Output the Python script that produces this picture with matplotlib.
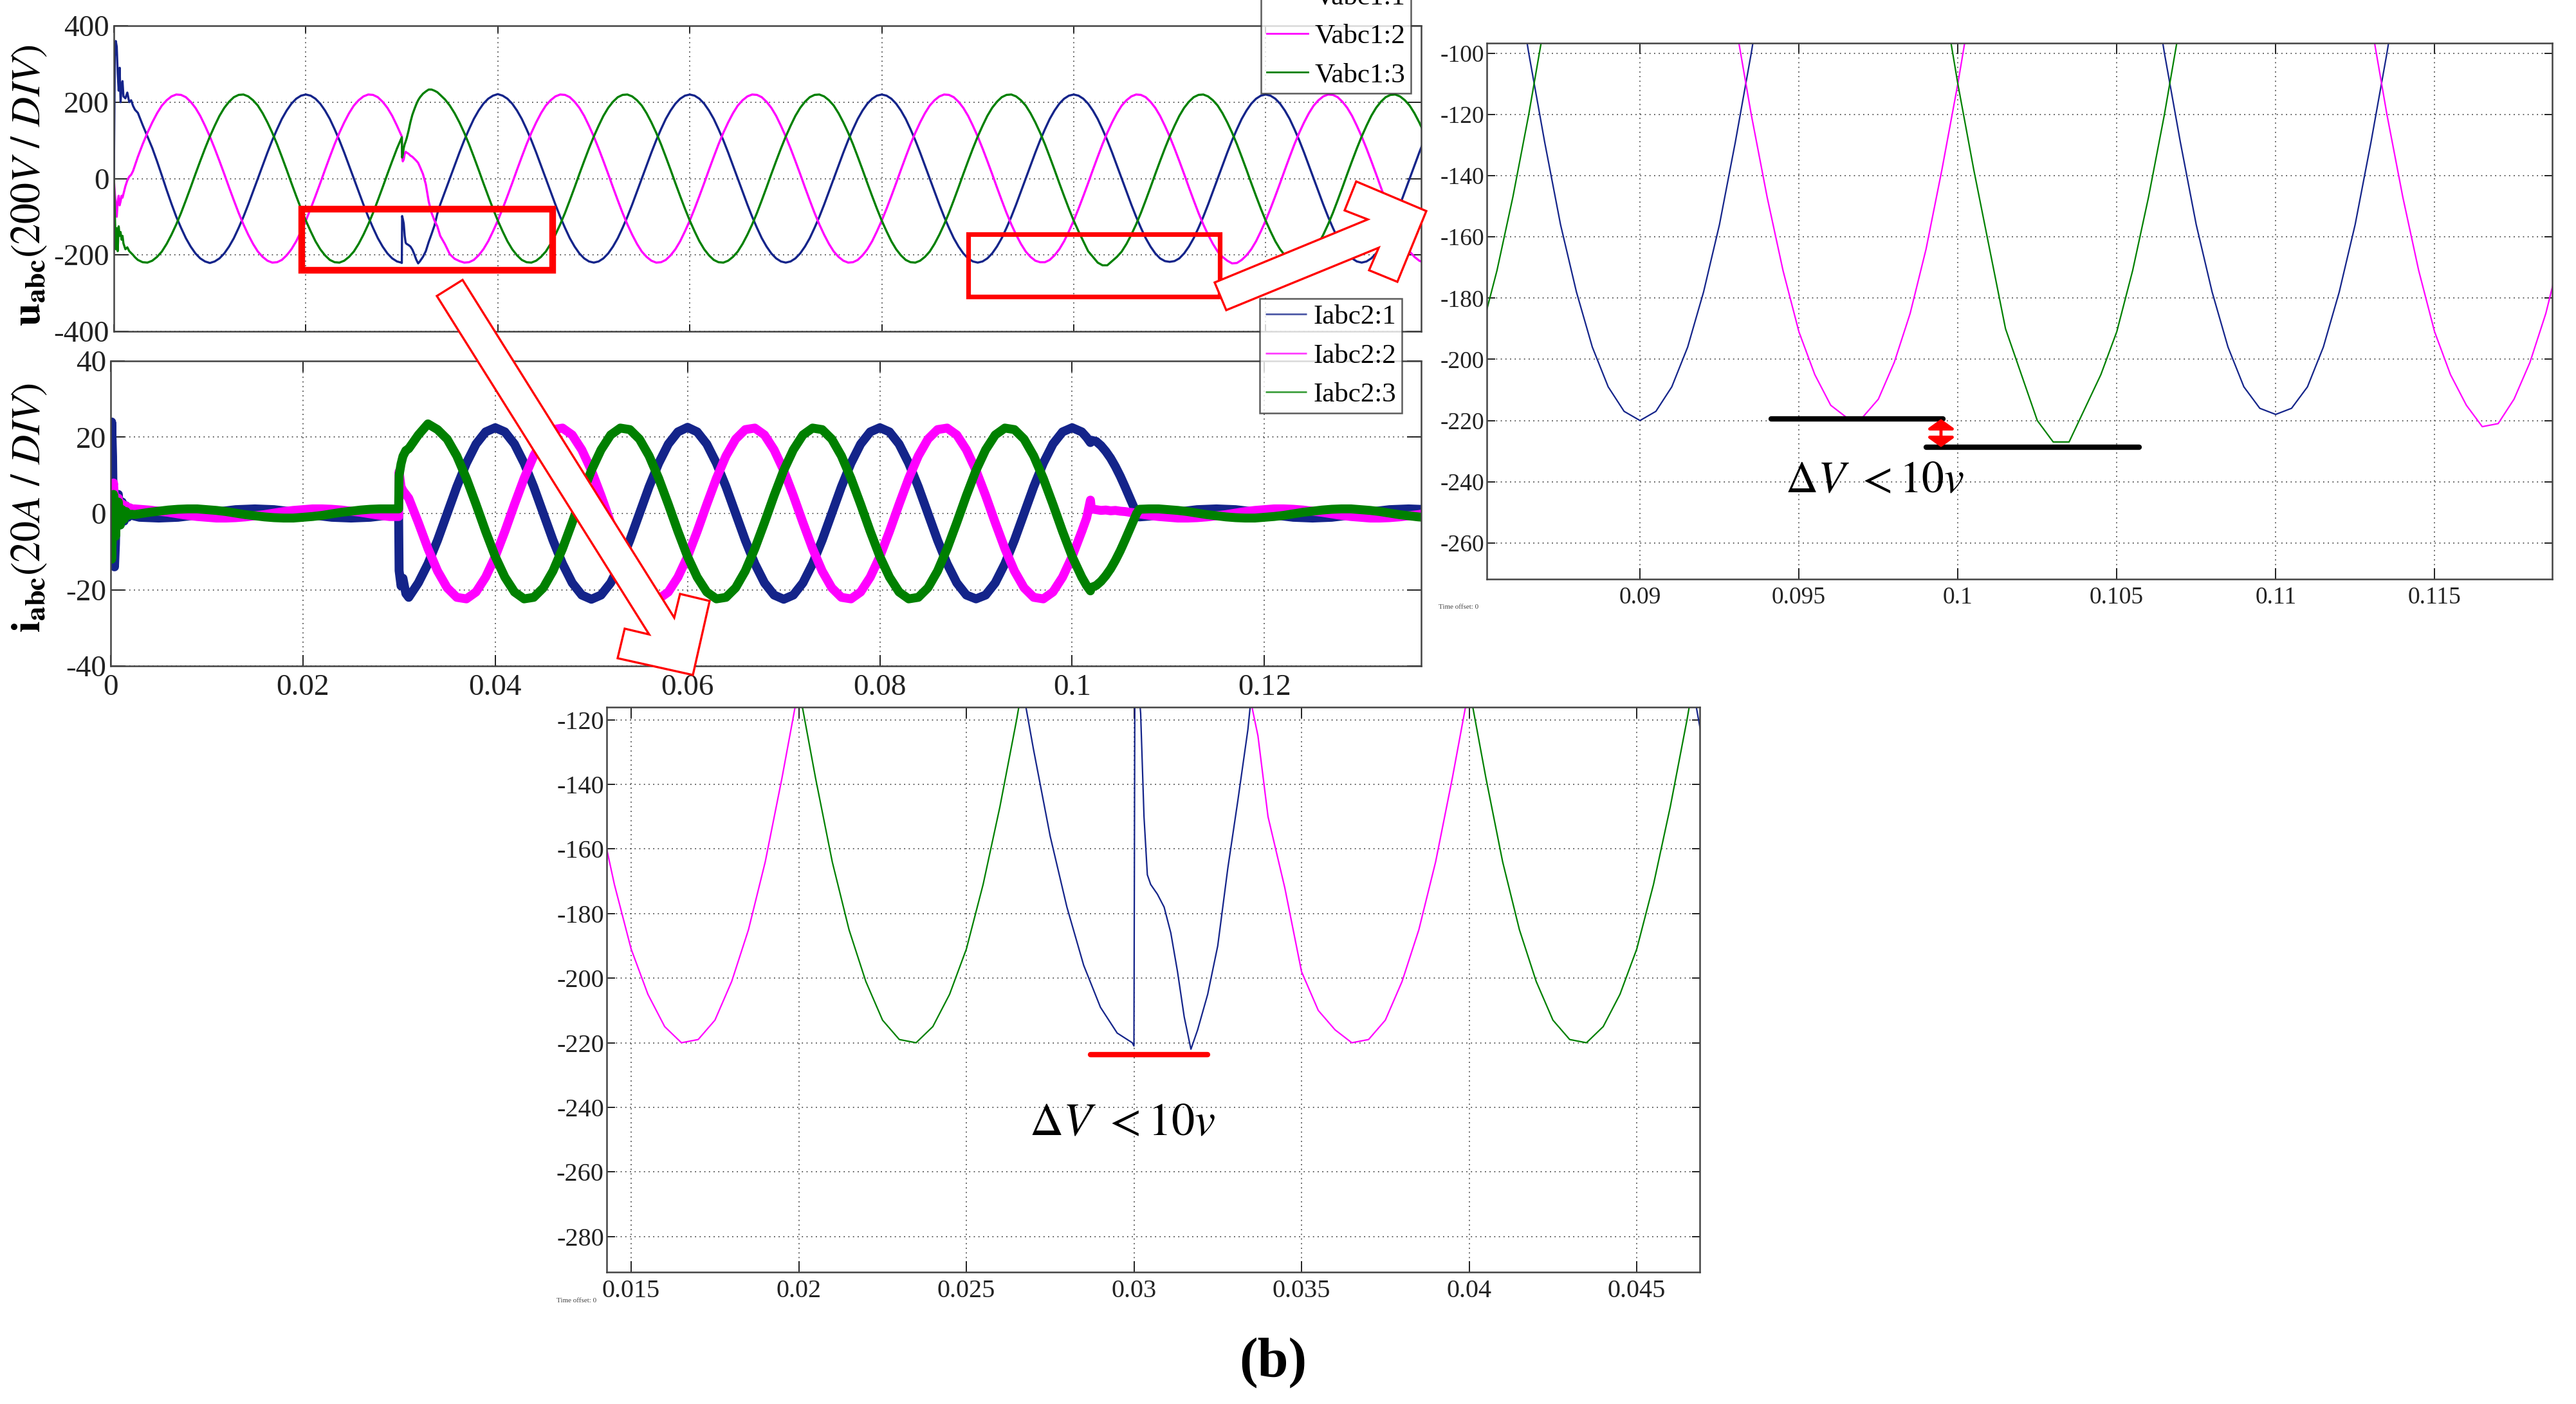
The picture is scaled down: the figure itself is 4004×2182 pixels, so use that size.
import numpy as np
import matplotlib
matplotlib.use('Agg')
import matplotlib.pyplot as plt
from matplotlib.patches import Polygon, Rectangle
from matplotlib.ticker import FuncFormatter

plt.rcParams['font.family'] = 'serif'
plt.rcParams['font.serif'] = ['Liberation Serif', 'DejaVu Serif']
plt.rcParams['mathtext.fontset'] = 'stix'

# ======================= DATA =======================
# Voltages (V), base samples every 0.5 ms, one row per 20 ms cycle
VSTEP_MS = 0.5
va_rows = [
    [0, 320, 360, 300, 240, 172, 140, 110, 80, 45, 8, -30, -66, -100, -129, -156, -178, -196, -209, -217,
     -221, -217, -209, -196, -178, -156, -129, -100, -68, -34, 0, 34, 68, 100, 129, 156, 178, 196, 209, 217],
    [220, 217, 209, 196, 178, 156, 129, 100, 68, 34, 0, -34, -68, -100, -129, -156, -178, -196, -209, -217,
     -221, -171, -174, -186, -212, -216, -190, -161, -68, -34, 0, 34, 68, 100, 129, 156, 178, 196, 209, 217],
    [221, 217, 209, 196, 178, 156, 129, 100, 68, 34, 0, -34, -68, -100, -129, -156, -178, -196, -209, -217,
     -220, -217, -209, -196, -178, -156, -129, -100, -68, -34, 0, 34, 68, 100, 129, 156, 178, 196, 209, 217],
    [220, 217, 209, 196, 178, 156, 129, 100, 68, 34, 0, -34, -68, -100, -129, -156, -178, -196, -209, -217,
     -220, -217, -209, -196, -178, -156, -129, -100, -68, -34, 0, 34, 68, 100, 129, 156, 178, 196, 209, 217],
    [220, 217, 209, 196, 178, 156, 129, 100, 68, 34, 0, -34, -68, -100, -129, -156, -178, -196, -209, -217,
     -220, -217, -209, -196, -178, -156, -129, -100, -68, -34, 0, 34, 68, 100, 129, 156, 178, 196, 209, 217],
    [220, 217, 209, 196, 178, 156, 129, 100, 68, 34, 0, -34, -68, -100, -129, -156, -178, -196, -209, -216,
     -218, -216, -209, -196, -178, -156, -129, -100, -68, -34, 0, 34, 68, 100, 129, 156, 178, 196, 209, 217],
    [220, 217, 209, 196, 178, 156, 129, 100, 68, 34, 0, -34, -68, -100, -129, -156, -178, -196, -209, -217,
     -220, -217, -209, -196, -178, -156, -129, -100, -68, -34, 0, 34, 68, 100, 129],
]
vb_rows = [
    [-110, -79, -46, -12, 23, 57, 90, 120, 147, 171, 191, 205, 215, 220, 219, 213, 201, 185, 164, 138,
     110, 79, 46, 12, -23, -57, -90, -120, -147, -171, -191, -205, -215, -220, -219, -213, -201, -185, -164, -138],
    [-110, -79, -46, -12, 23, 57, 90, 120, 147, 171, 191, 205, 215, 220, 219, 213, 201, 185, 164, 138,
     110, 79, 46, 12, -23, -57, -90, -120, -150, -172, -198, -210, -216, -220, -219, -213, -201, -185, -164, -138],
    [-110, -79, -46, -12, 23, 57, 90, 120, 147, 171, 191, 205, 215, 220, 219, 213, 201, 185, 164, 138,
     110, 79, 46, 12, -23, -57, -90, -120, -147, -171, -191, -205, -215, -220, -219, -213, -201, -185, -164, -138],
    [-110, -79, -46, -12, 23, 57, 90, 120, 147, 171, 191, 205, 215, 220, 219, 213, 201, 185, 164, 138,
     110, 79, 46, 12, -23, -57, -90, -120, -147, -171, -191, -205, -215, -220, -219, -213, -201, -185, -164, -138],
    [-110, -79, -46, -12, 23, 57, 90, 120, 147, 171, 191, 205, 215, 220, 219, 213, 201, 185, 164, 138,
     110, 79, 46, 12, -23, -57, -90, -120, -147, -171, -191, -205, -215, -219, -219, -213, -201, -185, -164, -138],
    [-110, -79, -46, -12, 23, 57, 90, 120, 147, 171, 191, 205, 215, 220, 219, 213, 201, 185, 164, 138,
     110, 79, 46, 12, -23, -57, -90, -120, -147, -171, -191, -205, -215, -222, -221, -213, -201, -185, -164, -138],
    [-110, -79, -46, -12, 23, 57, 90, 120, 147, 171, 191, 205, 215, 220, 219, 213, 201, 185, 164, 138,
     110, 79, 46, 12, -23, -57, -90, -120, -147, -171, -191, -205, -215, -220, -219],
]
vc_rows = [
    [-110, -138, -164, -185, -201, -213, -219, -220, -215, -205, -191, -171, -147, -120, -90, -57, -23, 12, 46, 79,
     110, 138, 164, 185, 201, 213, 219, 220, 215, 205, 191, 171, 147, 120, 90, 57, 23, -12, -46, -79],
    [-110, -138, -164, -185, -201, -213, -219, -220, -215, -205, -191, -171, -147, -120, -90, -57, -23, 12, 46, 79,
     110, 138, 164, 185, 201, 213, 219, 220, 219, 207, 191, 171, 147, 120, 90, 57, 23, -12, -46, -79],
    [-110, -138, -164, -185, -201, -213, -219, -220, -215, -205, -191, -171, -147, -120, -90, -57, -23, 12, 46, 79,
     110, 138, 164, 185, 201, 213, 219, 220, 215, 205, 191, 171, 147, 120, 90, 57, 23, -12, -46, -79],
    [-110, -138, -164, -185, -201, -213, -219, -220, -215, -205, -191, -171, -147, -120, -90, -57, -23, 12, 46, 79,
     110, 138, 164, 185, 201, 213, 219, 220, 215, 205, 191, 171, 147, 120, 90, 57, 23, -12, -46, -79],
    [-110, -138, -164, -185, -201, -213, -219, -220, -215, -205, -191, -171, -147, -120, -90, -57, -23, 12, 46, 79,
     110, 138, 164, 185, 201, 213, 219, 220, 215, 205, 191, 171, 147, 120, 90, 57, 23, -12, -46, -79],
    [-110, -138, -164, -190, -205, -220, -227, -227, -216, -205, -191, -171, -147, -120, -90, -57, -23, 12, 46, 79,
     110, 138, 164, 185, 201, 213, 219, 220, 215, 205, 191, 171, 147, 120, 90, 57, 23, -12, -46, -79],
    [-110, -138, -164, -185, -201, -213, -219, -220, -215, -205, -191, -171, -147, -120, -90, -57, -23, 12, 46, 79,
     110, 138, 164, 185, 201, 213, 219, 220, 215, 205, 191, 171, 147, 120, 90],
]
# start-up transient of the voltages (ms, V)
t_v_start = [0, 0.1, 0.2, 0.3, 0.4, 0.5, 0.6, 0.7, 0.8, 0.9, 1.0, 1.2, 1.4, 1.6, 1.8, 2.0, 2.2]
va_start = [0, 320, 360, 345, 275, 230, 290, 200, 240, 255, 215, 210, 225, 200, 205, 190, 180]
vb_start = [0, -40, -70, -100, -60, -45, -70, -60, -45, -50, -40, -20, -5, 5, 10, 20, 35]
vc_start = [0, -90, -185, -130, -190, -125, -150, -140, -160, -150, -170, -185, -180, -190, -195, -200, -206]
# load switching disturbance at 30 ms (ms, V)
t_v_dist = [29.95, 30.0, 30.03, 30.1, 30.2, 30.3, 30.4, 30.5, 30.7, 30.9, 31.1, 31.3, 31.5, 31.7, 31.9,
            32.2, 32.5, 32.8, 33.1, 33.4, 33.7]
va_dist = [-220, -221, -98, -105, -118, -150, -168, -171, -174, -178, -186, -198, -212, -222, -216,
           -205, -190, -166, -145, -123, -92]
vb_dist = [113, 110, 60, 45, 50, 65, 70, 68, 65, 60, 57, 52, 47, 41, 30, 12, -15, -60, -90, -110, -125]
vc_dist = [105, 108, 55, 62, 80, 90, 97, 105, 125, 148, 167, 181, 194, 205, 213, 222, 228, 233, 233, 230, 226]

# Currents (A), base samples every 1 ms, one row per 20 ms cycle
ISTEP_MS = 1.0
ia_rows = [
    [0, -0.4, -0.7, -1.0, -1.1, -1.2, -1.1, -1.0, -0.7, -0.4, 0, 0.4, 0.7, 1.0, 1.1, 1.2, 1.1, 1.0, 0.7, 0.4],
    [0, -0.4, -0.7, -1.0, -1.1, -1.2, -1.1, -1.0, -0.7, -0.4, -22.5, -21.4, -18.2, -13.2, -7.0, 0, 7.0, 13.2, 18.2, 21.4],
    [22.5, 21.4, 18.2, 13.2, 7.0, 0, -7.0, -13.2, -18.2, -21.4, -22.5, -21.4, -18.2, -13.2, -7.0, 0, 7.0, 13.2, 18.2, 21.4],
    [22.6, 21.4, 18.2, 13.2, 7.0, 0, -7.0, -13.2, -18.2, -21.4, -22.5, -21.4, -18.2, -13.2, -7.0, 0, 7.0, 13.2, 18.2, 21.4],
    [22.5, 21.4, 18.2, 13.2, 7.0, 0, -7.0, -13.2, -18.2, -21.4, -22.4, -21.4, -18.2, -13.2, -7.0, 0, 7.0, 13.2, 18.2, 21.4],
    [22.5, 21.4, 19.4, 17.8, 14.5, 9.8, 4.1, -1.0, -0.7, -0.4, 0, 0.4, 0.7, 1.0, 1.1, 1.2, 1.1, 1.0, 0.7, 0.4],
    [0, -0.4, -0.7, -1.0, -1.1, -1.2, -1.1, -1.0, -0.7, -0.4, 0, 0.4, 0.7, 1.0, 1.1, 1.2, 1.1, 1.0],
]
ib_rows = [
    [1.0, 1.2, 1.2, 1.1, 0.9, 0.6, 0.3, -0.1, -0.5, -0.8, -1.0, -1.2, -1.2, -1.1, -0.9, -0.6, -0.3, 0.1, 0.5, 0.8],
    [1.0, 1.2, 1.2, 1.1, 0.9, 0.6, 0.3, -0.1, -0.5, -0.8, 11.3, 4.7, -2.4, -9.2, -15.1, -19.5, -22.0, -22.4, -20.6, -16.7],
    [-11.3, -4.7, 2.4, 9.2, 15.1, 19.5, 22.0, 22.4, 20.6, 16.7, 11.3, 4.7, -2.4, -9.2, -15.1, -19.5, -22.0, -22.4, -20.6, -16.7],
    [-11.3, -4.7, 2.4, 9.2, 15.1, 19.5, 22.0, 22.4, 20.6, 16.7, 11.3, 4.7, -2.4, -9.2, -15.1, -19.5, -22.0, -22.4, -20.6, -16.7],
    [-11.3, -4.7, 2.4, 9.2, 15.1, 19.5, 22.0, 22.4, 20.6, 16.7, 11.3, 4.7, -2.4, -9.2, -15.1, -19.5, -22.0, -22.4, -20.6, -16.7],
    [-11.3, -4.7, 1.0, 0.8, 0.7, 0.6, 0.3, -0.1, -0.5, -0.8, -1.0, -1.2, -1.2, -1.1, -0.9, -0.6, -0.3, 0.1, 0.5, 0.8],
    [1.0, 1.2, 1.2, 1.1, 0.9, 0.6, 0.3, -0.1, -0.5, -0.8, -1.0, -1.2, -1.2, -1.1, -0.9, -0.6, -0.3, 0.1],
]
ic_rows = [
    [-1.0, -0.8, -0.5, -0.1, 0.3, 0.6, 0.9, 1.1, 1.2, 1.2, 1.0, 0.8, 0.5, 0.1, -0.3, -0.6, -0.9, -1.1, -1.2, -1.2],
    [-1.0, -0.8, -0.5, -0.1, 0.3, 0.6, 0.9, 1.1, 1.2, 1.2, 11.3, 16.7, 20.6, 23.5, 22.0, 19.5, 15.1, 9.2, 2.4, -4.7],
    [-11.3, -16.7, -20.6, -22.4, -22.0, -19.5, -15.1, -9.2, -2.4, 4.7, 11.3, 16.7, 20.6, 22.4, 22.0, 19.5, 15.1, 9.2, 2.4, -4.7],
    [-11.3, -16.7, -20.6, -22.4, -22.0, -19.5, -15.1, -9.2, -2.4, 4.7, 11.3, 16.7, 20.6, 22.4, 22.0, 19.5, 15.1, 9.2, 2.4, -4.7],
    [-11.3, -16.7, -20.6, -22.4, -22.0, -19.5, -15.1, -9.2, -2.4, 4.7, 11.3, 16.7, 20.6, 22.4, 22.0, 19.5, 15.1, 9.2, 2.4, -4.7],
    [-11.3, -16.7, -19.4, -17.8, -14.5, -9.8, -4.1, 1.1, 1.2, 1.2, 1.0, 0.8, 0.5, 0.1, -0.3, -0.6, -0.9, -1.1, -1.2, -1.2],
    [-1.0, -0.8, -0.5, -0.1, 0.3, 0.6, 0.9, 1.1, 1.2, 1.2, 1.0, 0.8, 0.5, 0.1, -0.3, -0.6, -0.9, -1.1],
]
t_i_start = [0, 0.1, 0.2, 0.3, 0.4, 0.5, 0.6, 0.8, 1.0, 1.2, 1.4, 1.6, 1.8, 2.0, 2.2, 2.5]
ia_start = [0, 24, 15, -5, -14, -8, 4, 5, -3, 3, -2, 2, -1, 0.5, -0.5, -0.7]
ib_start = [0, -3, 6, 8, 3, -4, 2, 4, 0, 2.5, 0.5, 2, 1, 1.5, 1.2, 1.2]
ic_start = [0, -12, -4, 5, 3, -6, -2, 3, -3, 1, -1.5, 0.5, -0.5, -0.3, -0.2, -0.3]
t_i_on = [29.95, 30.0, 30.2, 30.4, 30.7, 31.0]
ia_on = [-0.4, -15, -19, -17, -21, -22]
ib_on = [-0.8, 11, 7, 6, 5, 4]
ic_on = [1.2, 10, 13, 15, 16.5, 17]
t_i_off = [101.5, 101.9, 102.0, 102.5, 103.0, 103.5, 104.0, 104.5, 105.0, 105.5, 106.0, 106.4, 106.7, 107.0]
ia_off = [20.0, 18.6, 19.2, 18.9, 17.8, 16.3, 14.5, 12.3, 9.8, 7.0, 4.1, 1.8, 0.0, -0.9]
ib_off = [-1.2, 3.5, 1.2, 1.0, 0.8, 0.9, 0.7, 0.8, 0.6, 0.5, 0.3, 0.2, 0.0, -0.1]
ic_off = [-18.9, -20.3, -19.4, -18.9, -17.8, -16.3, -14.5, -12.3, -9.8, -7.0, -4.1, -1.8, 0.0, 1.1]

v_labels = ['Vabc1:1', 'Vabc1:2', 'Vabc1:3']
i_labels = ['Iabc2:1', 'Iabc2:2', 'Iabc2:3']
main_xticks = [0, 0.02, 0.04, 0.06, 0.08, 0.1, 0.12]
v_yticks = [-400, -200, 0, 200, 400]
i_yticks = [-40, -20, 0, 20, 40]
zr_xticks = [0.09, 0.095, 0.1, 0.105, 0.11, 0.115]
zr_yticks = [-260, -240, -220, -200, -180, -160, -140, -120, -100]
zb_xticks = [0.015, 0.02, 0.025, 0.03, 0.035, 0.04, 0.045]
zb_yticks = [-280, -260, -240, -220, -200, -180, -160, -140, -120]
# annotation marks (s, V)
dv_line1 = ([0.09412, 0.09953], [-219.5, -219.5])
dv_line2 = ([0.0990, 0.1057], [-228.7, -228.7])
dv_arrow = (0.09947, -219.5, -228.7)
dv_red = ([0.0287, 0.03219], [-223.7, -223.7])
dv_text = r'$\Delta V\ {<}10v$'

# ======================= helpers =======================
def series(rows, step_ms, events):
    y = np.concatenate([np.asarray(r, float) for r in rows])
    t = np.arange(y.size) * step_ms
    keep = np.ones(t.size, bool)
    for et, _ in events:
        keep &= ~((t >= min(et) - 1e-9) & (t <= max(et) + 1e-9))
    T = np.concatenate([t[keep]] + [np.asarray(et, float) for et, _ in events])
    Y = np.concatenate([y[keep]] + [np.asarray(ey, float) for _, ey in events])
    o = np.argsort(T, kind='stable')
    return T[o] / 1000.0, Y[o]

tva, va = series(va_rows, VSTEP_MS, [(t_v_start, va_start), (t_v_dist, va_dist)])
tvb, vb = series(vb_rows, VSTEP_MS, [(t_v_start, vb_start), (t_v_dist, vb_dist)])
tvc, vc = series(vc_rows, VSTEP_MS, [(t_v_start, vc_start), (t_v_dist, vc_dist)])
tia, ia = series(ia_rows, ISTEP_MS, [(t_i_start, ia_start), (t_i_on, ia_on), (t_i_off, ia_off)])
tib, ib = series(ib_rows, ISTEP_MS, [(t_i_start, ib_start), (t_i_on, ib_on), (t_i_off, ib_off)])
tic, ic = series(ic_rows, ISTEP_MS, [(t_i_start, ic_start), (t_i_on, ic_on), (t_i_off, ic_off)])

W, H, DPI = 4005, 2182, 100
C_B, C_M, C_G = '#14248a', '#ff00ff', '#008000'
SPINE = '#444444'
SERIF = 'Liberation Serif'

def rect(l, t, r, b):
    return [l / W, 1 - b / H, (r - l) / W, (b - t) / H]

def fx(x):
    return x / W

def fy(y):
    return 1 - y / H

fmt = FuncFormatter(lambda v, p: ('%g' % round(v, 6)))

fig = plt.figure(figsize=(W / DPI, H / DPI), dpi=DPI)
fig.patch.set_facecolor('white')

def style(ax, xt, yt, fs, xlen, ylen, xpad, ypad, show_x=True):
    ax.set_xticks(xt)
    ax.set_yticks(yt)
    ax.xaxis.set_major_formatter(fmt)
    ax.yaxis.set_major_formatter(fmt)
    ax.tick_params(axis='both', direction='in', top=True, right=True, colors='#222222',
                   labelsize=fs, width=1.4, labelfontfamily=SERIF)
    ax.tick_params(axis='x', length=xlen, pad=xpad)
    ax.tick_params(axis='y', length=ylen, pad=ypad)
    if not show_x:
        ax.tick_params(axis='x', labelbottom=False)
    ax.grid(True, linestyle=(0, (1, 3)), color='#555555', linewidth=1.3)
    for s in ax.spines.values():
        s.set_color(SPINE)
        s.set_linewidth(1.8)

def legend(ax, handles, labels, x0, y0):
    lg = ax.legend(handles, labels, loc='lower left', bbox_to_anchor=(fx(x0), fy(y0)),
                   bbox_transform=fig.transFigure, frameon=True, fancybox=False,
                   prop={'family': SERIF, 'size': 31},
                   edgecolor='#333333', borderpad=0.2, labelspacing=0.5, handlelength=1.5,
                   handletextpad=0.25, borderaxespad=0.0)
    lg.get_frame().set_linewidth(1.8)
    for h in lg.get_lines():
        h.set_linewidth(2.0)
    lg.set_zorder(30)
    return lg

# ---- voltage main ----
axv = fig.add_axes(rect(177, 40, 2209, 515))
lv = []
for t, y, c in [(tva, va, C_B), (tvb, vb, C_M), (tvc, vc, C_G)]:
    lv += axv.plot(t, y, color=c, lw=2.4)
axv.set_xlim(0, 0.1362)
axv.set_ylim(-400, 400)
style(axv, main_xticks, v_yticks, 34, 8, 16, 10, 5, show_x=False)
axv.add_patch(Rectangle((0.0196, -240), 0.0457 - 0.0196, 160, fill=False, ec='#ff0000', lw=7.5,
                        clip_on=False, zorder=20, joinstyle='miter'))
axv.add_patch(Rectangle((0.0890, -309), 0.1152 - 0.0890, 163, fill=False, ec='#ff0000', lw=5.2,
                        clip_on=False, zorder=20, joinstyle='miter'))
legend(axv, lv, v_labels, 1960, 145)

# ---- current main ----
axi = fig.add_axes(rect(172, 561, 2209, 1035))
li = []
for t, y, c in [(tia, ia, C_B), (tib, ib, C_M), (tic, ic, C_G)]:
    li += axi.plot(t, y, color=c, lw=10, solid_joinstyle='round', solid_capstyle='butt')
axi.set_xlim(0, 0.1363)
axi.set_ylim(-40, 40)
style(axi, main_xticks, i_yticks, 34, 12, 16, 9, 5)
legi = legend(axi, li, i_labels, 1958, 642)
for h in legi.get_lines():
    h.set_alpha(0.75)

fig.text(fx(46), fy(288), r'$\mathbf{u}_{\mathbf{abc}}(200V\ /\ DIV)$', rotation=90,
         fontsize=46, ha='center', va='center')
fig.text(fx(46), fy(789), r'$\mathbf{i}_{\mathbf{abc}}(20A\ /\ DIV)$', rotation=90,
         fontsize=46, ha='center', va='center')

# ---- right zoom ----
axr = fig.add_axes(rect(2311, 67, 3967, 900))
for t, y, c in [(tva, va, C_B), (tvb, vb, C_M), (tvc, vc, C_G)]:
    axr.plot(t, y, color=c, lw=1.6)
axr.set_xlim(0.08518, 0.1187)
axr.set_ylim(-271.8, -96.7)
style(axr, zr_xticks, zr_yticks, 27, 12, 9, 8, 3)
axr.plot(*dv_line1, color='black', lw=6, solid_capstyle='round', zorder=5)
axr.plot(*dv_line2, color='black', lw=6, solid_capstyle='round', zorder=5)
axr.annotate('', xy=(dv_arrow[0], dv_arrow[2]), xytext=(dv_arrow[0], dv_arrow[1]),
             arrowprops=dict(arrowstyle='<|-|>,head_length=0.3,head_width=0.42', color='#ff0000',
                             lw=3.5, mutation_scale=30, shrinkA=0, shrinkB=0), zorder=6)
axr.text(0.09739, -239.9, dv_text, fontsize=50, ha='center', va='center')

# ---- bottom zoom ----
axb = fig.add_axes(rect(943, 1099, 2642, 1977))
for t, y, c in [(tva, va, C_B), (tvb, vb, C_M), (tvc, vc, C_G)]:
    axb.plot(t, y, color=c, lw=1.6)
axb.set_xlim(0.01427, 0.04688)
axb.set_ylim(-291, -116.1)
style(axb, zb_xticks, zb_yticks, 29, 12, 9, 8, 3)
axb.plot(*dv_red, color='#ff0000', lw=6, solid_capstyle='round', zorder=5)
axb.text(0.029645, -245.2, dv_text, fontsize=52, ha='center', va='center')

fig.text(fx(2298), fy(944), 'Time offset: 0', fontsize=8, color='#444444', ha='right', va='center')
fig.text(fx(927), fy(2021), 'Time offset: 0', fontsize=8, color='#444444', ha='right', va='center')

# ---- hollow block arrows (figure pixel layout) ----
arrow1 = [(679, 460), (1009, 986), (971, 977), (960, 1023), (1077, 1049), (1103, 934), (1057, 923),
          (1048, 960), (719, 435)]
arrow2 = [(1888, 439), (2126, 341), (2090, 327), (2108, 282), (2217, 328), (2172, 438), (2128, 420),
          (2143, 385), (1906, 482)]
for pts in (arrow1, arrow2):
    fig.add_artist(Polygon([(fx(x), fy(y)) for x, y in pts], closed=True, transform=fig.transFigure,
                           facecolor='white', edgecolor='#ff0000', lw=2.4, zorder=40, joinstyle='miter'))

fig.text(fx(1979), fy(2118), '(b)', fontsize=62, fontweight='bold', ha='center', va='center')

fig.savefig('out.png', dpi=DPI, facecolor='white')
